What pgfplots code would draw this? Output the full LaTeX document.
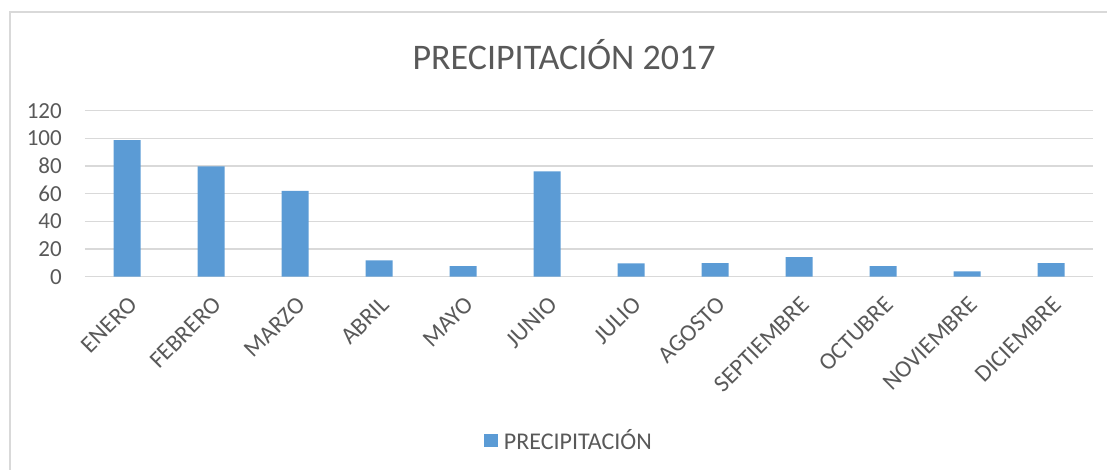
\documentclass[border=0pt]{standalone}
\usepackage{fontspec}
\setmainfont{Carlito}
\usepackage{pgfplots}
\pgfplotsset{compat=1.18}
\definecolor{barblue}{HTML}{5B9BD5}
\definecolor{txtgray}{HTML}{595959}
\definecolor{gridgray}{HTML}{D9D9D9}
\begin{document}
\begin{tikzpicture}
% chart frame (only left and top edges are inside the picture)
\draw[gridgray, line width=1.5pt] (10pt,-5pt) -- (10pt,458pt) -- (1115pt,458pt);
\node[txtgray, font=\fontsize{36}{40}\selectfont, anchor=base, inner sep=0pt]
  at (564pt,400.7pt) {PRECIPITACIÓN 2017};
\begin{axis}[
    at={(85pt,193.3pt)}, anchor=south west,
    scale only axis, width=1008pt, height=166pt,
    ybar, bar width=27pt,
    xmin=-0.5, xmax=11.5, ymin=0, ymax=120,
    xtick={0,...,11},
    xticklabels={ENERO,FEBRERO,MARZO,ABRIL,MAYO,JUNIO,JULIO,AGOSTO,SEPTIEMBRE,OCTUBRE,NOVIEMBRE,DICIEMBRE},
    ytick={0,20,...,120},
    ymajorgrids, grid style={gridgray, line width=1.3pt},
    axis line style={draw=none}, major tick length=0pt,
    tick label style={text=txtgray, font=\fontsize{23}{26}\selectfont},
    /pgf/number format/assume math mode=true,
    yticklabel style={anchor=east, inner sep=0pt, xshift=-23pt},
    xticklabel style={font=\fontsize{24}{27}\selectfont, xshift=6pt, yshift=-24pt, rotate=45, anchor=east, inner sep=0pt},
    legend style={at={(axis description cs:0.48,-0.984)}, anchor=center,
        draw=none, fill=none, text=txtgray, font=\fontsize{24}{27}\selectfont},
    legend image code/.code={\fill[barblue] (0pt,-6.5pt) rectangle (14pt,6pt); \path (18pt,0pt);},
]
\addplot[fill=barblue, draw=none] coordinates {
    (0,98.8) (1,79.8) (2,62) (3,11.8) (4,7.7) (5,76.2)
    (6,9.7) (7,9.9) (8,14.2) (9,7.7) (10,3.9) (11,9.9)};
\addlegendentry{PRECIPITACIÓN}
\end{axis}
\pgfresetboundingbox
\path[use as bounding box] (0,0) rectangle (1107pt,470pt);
\end{tikzpicture}
\end{document}
